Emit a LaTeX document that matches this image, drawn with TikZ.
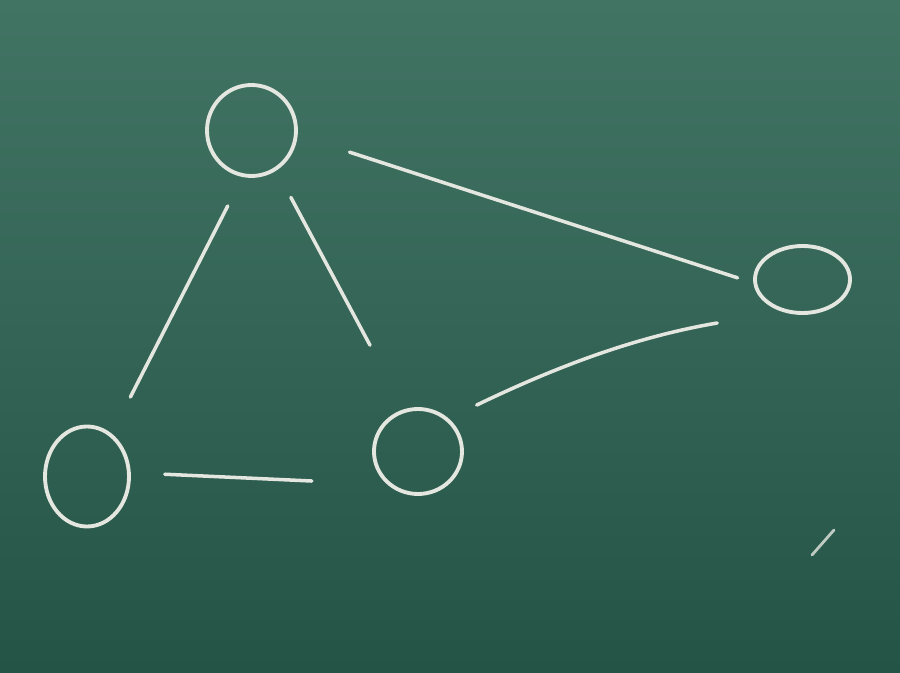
\documentclass[tikz,border=0pt]{standalone}
\usetikzlibrary{shapes.geometric}
\definecolor{boardtop}{RGB}{66,116,100}
\definecolor{boardbottom}{RGB}{36,84,70}
\definecolor{chalk}{RGB}{228,230,224}
\begin{document}
\begin{tikzpicture}[
    vertex/.style={draw=chalk, ellipse, line width=2.2pt, inner sep=0pt},
    stroke/.style={draw=chalk, line width=2pt, line cap=round}
  ]
      \useasboundingbox (0,0) rectangle (18,13.44);
      \shade[top color=boardtop, bottom color=boardbottom] (0,0) rectangle (18,13.44);
      \draw
        (5.03,10.83) node[vertex, minimum width=1.78cm, minimum height=1.82cm] (0){}
        (16.05,7.85) node[vertex, minimum width=1.9cm, minimum height=1.34cm] (1){}
        (1.74,3.91) node[vertex, minimum width=1.68cm, minimum height=2cm] (2){}
        (8.36,4.41) node[vertex, minimum width=1.76cm, minimum height=1.7cm] (3){};
      \begin{scope}[stroke]
        \draw[shorten <=1.09cm, shorten >=0.33cm] (0.354) to (1.184);
        \draw[shorten <=0.65cm, shorten >=0.82cm] (0.259) to (2.60);
        \draw[shorten <=0.61cm, shorten >=1.45cm] (0.302) to (3.108);
        \draw[shorten <=0.68cm, shorten >=1.51cm] (2.5) to (3.227);
        \draw[shorten <=0.62cm, shorten >=1.32cm] (3.47) to[bend left=8] (1.238);
      \end{scope}
      \draw[stroke, line width=1.6pt, opacity=0.8] (16.24,2.34) -- (16.68,2.84);
    \end{tikzpicture}
\end{document}
